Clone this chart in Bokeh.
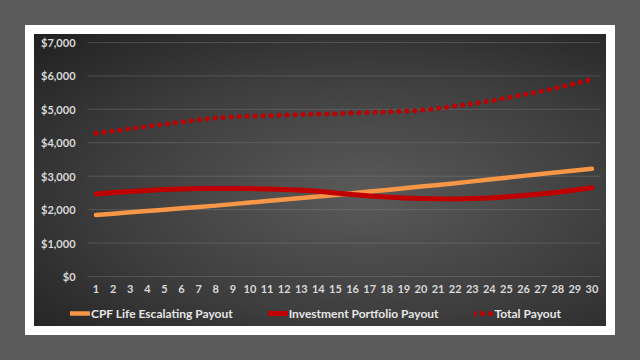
from bokeh.plotting import figure
from bokeh.models import Range1d, NumeralTickFormatter, Legend, LegendItem, FixedTicker
from bokeh.embed import file_html
from bokeh.resources import INLINE

years = list(range(1, 31))
cpf_payout = [1840, 1880, 1920, 1960, 2000, 2040, 2080, 2120, 2165, 2210,
              2255, 2300, 2345, 2390, 2440, 2490, 2540, 2590, 2640, 2690,
              2740, 2790, 2845, 2900, 2955, 3010, 3065, 3120, 3170, 3220]
inv_payout = [2470, 2510, 2545, 2575, 2600, 2620, 2630, 2635, 2635, 2630,
              2620, 2605, 2580, 2550, 2495, 2450, 2410, 2375, 2350, 2335,
              2325, 2320, 2330, 2350, 2385, 2425, 2470, 2520, 2585, 2655]
total_payout = [4285, 4350, 4420, 4490, 4560, 4625, 4690, 4740, 4775, 4800,
                4815, 4830, 4845, 4858, 4870, 4890, 4905, 4925, 4945, 4970,
                5030, 5100, 5170, 5250, 5340, 5440, 5540, 5650, 5770, 5900]
y_ticks = [0, 1000, 2000, 3000, 4000, 5000, 6000, 7000]

FONT = "Lato"
LABEL = "#d9d9d9"

x_lo = years[0] - 0.5
x_hi = years[-1] + 0.5

p = figure(width=572, height=292, x_range=Range1d(-2.6, 30.85),
           y_range=Range1d(-1496, 7239), output_backend="svg", toolbar_location=None,
           min_border_left=0, min_border_right=0, min_border_top=0, min_border_bottom=0)
p.background_fill_alpha = 0
p.border_fill_alpha = 0
p.outline_line_color = None
p.margin = (34, 0, 0, 34)
p.styles = {
    "background": "radial-gradient(ellipse farthest-corner at 58% 55%, #5a5a5a 0%, #3d3d3d 55%, #202020 100%)",
    "box-shadow": "0 0 0 9px #ffffff, 0 0 0 1200px #5b5b5b",
}

# horizontal gridlines spanning the category band only
p.segment(x0=[x_lo] * len(y_ticks), x1=[x_hi] * len(y_ticks), y0=y_ticks, y1=y_ticks,
          line_color="#8a8a8a", line_alpha=0.35, line_width=1)

r_cpf = p.line(years, cpf_payout, line_color="#F79646", line_width=4.5, line_cap="round")
r_inv = p.line(years, inv_payout, line_color="#C00000", line_width=5, line_cap="round")
r_tot = p.line(years, total_payout, line_color="#C00000", line_width=5,
               line_dash="0 8", line_cap="round")

for ax in (p.xaxis[0], p.yaxis[0]):
    ax.axis_line_color = None
    ax.major_tick_line_color = None
    ax.minor_tick_line_color = None
    ax.major_tick_out = 0
    ax.major_tick_in = 0
    ax.major_label_text_color = LABEL
    ax.major_label_text_font = FONT
    ax.major_label_text_font_style = "bold"
    ax.major_label_text_font_size = "11px"

p.yaxis[0].ticker = FixedTicker(ticks=y_ticks)
p.yaxis[0].formatter = NumeralTickFormatter(format="$0,0")
p.yaxis[0].fixed_location = x_lo
p.yaxis[0].major_label_standoff = 12
p.xaxis[0].ticker = FixedTicker(ticks=years)
p.xaxis[0].fixed_location = 0
p.xaxis[0].major_label_standoff = 9

p.xgrid.grid_line_color = None
p.ygrid.grid_line_color = None

legend = Legend(items=[
    LegendItem(label="CPF Life Escalating Payout", renderers=[r_cpf]),
    LegendItem(label="Investment Portfolio Payout", renderers=[r_inv]),
    LegendItem(label="Total Payout", renderers=[r_tot]),
], orientation="horizontal", location=(36, 5), spacing=35,
    label_text_color="#e6e6e6", label_text_font=FONT, label_text_font_style="bold",
    label_text_font_size="12px", glyph_width=20, glyph_height=16, label_height=16,
    label_standoff=1, background_fill_alpha=0, border_line_alpha=0, padding=0, margin=0)
p.add_layout(legend)

open("out.html", "w").write(file_html(p, INLINE))
